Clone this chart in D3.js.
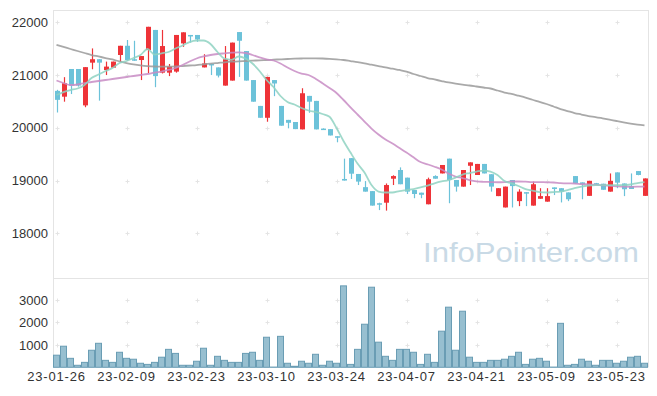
<!DOCTYPE html>
<html>
<head>
<meta charset="utf-8">
<script src="https://cdn.jsdelivr.net/npm/d3@7"></script>
<style>
  body { margin: 0; background: #fff; }
  svg text { font-family: "Liberation Sans", Arial, sans-serif; }
</style>
</head>
<body>
<svg id="chart" width="657" height="396"></svg>
<script>
// daily candles, 23-01-26 .. 23-05-30 (trading days)
const dates = ['23-01-26','23-01-27','23-01-30','23-01-31',
  '23-02-01','23-02-02','23-02-03','23-02-06','23-02-07','23-02-08','23-02-09','23-02-10','23-02-13','23-02-14',
  '23-02-15','23-02-16','23-02-17','23-02-20','23-02-21','23-02-22','23-02-23','23-02-24','23-02-27','23-02-28',
  '23-03-02','23-03-03','23-03-06','23-03-07','23-03-08','23-03-09','23-03-10','23-03-13','23-03-14','23-03-15',
  '23-03-16','23-03-17','23-03-20','23-03-21','23-03-22','23-03-23','23-03-24','23-03-27','23-03-28','23-03-29',
  '23-03-30','23-03-31',
  '23-04-03','23-04-04','23-04-05','23-04-06','23-04-07','23-04-10','23-04-11','23-04-12','23-04-13','23-04-14',
  '23-04-17','23-04-18','23-04-19','23-04-20','23-04-21','23-04-24','23-04-25','23-04-26','23-04-27','23-04-28',
  '23-05-02','23-05-03','23-05-04','23-05-08','23-05-09','23-05-10','23-05-11','23-05-12','23-05-15','23-05-16',
  '23-05-17','23-05-18','23-05-19','23-05-22','23-05-23','23-05-24','23-05-25','23-05-26','23-05-30'];

const opens = [20700,20590,21115,21115,20425,21235,21300,21095,21140,21380,21555,21300,21285,21475,21855,21045,21045,
  21065,21600,21760,21760,21145,21210,21145,20800,20895,21815,21455,20905,20415,20190,20905,20415,20150,20110,19970,
  20605,20510,19985,19975,19840,19030,19425,19125,18875,18800,18570,18580,19035,19200,19055,18820,18770,18550,19085,
  19135,19415,19010,18885,19280,19105,19315,19120,18705,18490,19010,18610,18780,18525,18655,18600,18870,18855,18775,
  19085,18965,18710,18950,18940,18790,19155,18945,18895,19180,18710];
const highs = [20720,20960,21115,21115,21150,21505,21300,21255,21255,21555,21665,21650,21360,21915,21855,21855,21210,
  21760,21810,21760,21760,21395,21215,21145,21550,21615,21815,21455,20905,20415,20965,20905,20415,20150,20110,20750,
  20605,20510,19990,19975,19840,19415,19425,19125,18990,18800,18580,18945,19100,19250,19055,18820,18770,19055,19100,
  19295,19415,19010,19200,19345,19315,19315,19120,18855,18885,19010,18835,18780,18980,18855,18855,18870,18855,18775,
  19085,18965,18995,18955,18940,19135,19155,18945,19135,19180,19040];
const lows = [20290,20495,20640,20780,20390,21110,20515,21000,21140,21250,21270,21270,20905,21035,20770,21030,20980,
  21045,21535,21615,21630,21145,21000,20955,20800,20895,20965,20895,20495,20190,20115,20600,20040,19990,19975,19970,
  20285,19970,19960,19855,19725,19000,19030,18915,18790,18525,18440,18430,18915,18930,18745,18665,18665,18550,19035,
  19135,18570,18790,18885,18915,19105,19135,18790,18705,18490,18490,18515,18515,18525,18655,18600,18725,18585,18610,
  18945,18645,18710,18930,18825,18790,18855,18705,18840,19100,18710];
const closes = [20530,20845,20800,20800,21150,21300,21235,21160,21255,21555,21285,21280,21360,21915,20980,21550,21160,
  21760,21810,21740,21675,21220,21190,20990,21300,21615,21650,20895,20495,20190,20965,20840,20040,20095,19975,20655,
  20495,19970,19965,19855,19820,19000,19130,18980,18790,18525,18550,18915,19085,18930,18790,18745,18730,19025,19035,
  19295,19010,18885,19200,19345,19315,19135,18885,18855,18885,18895,18790,18760,18930,18705,18705,18840,18790,18645,
  18945,18930,18995,18940,18825,18995,18960,18835,18840,19105,19040];

const volumes = [540,940,400,90,220,760,1070,310,220,670,400,360,180,130,220,450,800,620,90,90,270,850,90,490,310,220,
  220,620,670,310,1340,10,1380,180,45,270,180,580,90,270,180,3630,130,800,1920,3570,1120,490,310,800,800,670,130,580,
  220,1610,2680,760,2500,450,220,220,310,310,360,490,670,130,360,400,270,10,1960,90,130,360,270,90,310,310,180,270,450,
  490,180];

// moving averages as drawn on the chart
const ma5 = [20622,20678,20716,20745,20811,20944,21010,21077,21134,21228,21266,21323,21380,21494,21389,21412,21437,
  21503,21560,21626,21655,21655,21589,21437,21310,21289,21352,21314,21219,21077,20906,20773,20603,20489,20441,20375,
  20328,20300,20262,20211,19996,19750,19530,19322,19152,18915,18792,18773,18773,18801,18820,18839,18872,18906,18947,
  18982,19010,19057,19114,19143,19171,19190,19171,19105,18991,18947,18896,18839,18811,18782,18773,18782,18792,18820,
  18858,18887,18906,18915,18915,18915,18915,18915,18925,18953,18972];
const ma20 = [20897,20849,20811,20821,20849,20868,20887,20906,20925,20944,20963,20982,21001,21020,21048,21067,21096,
  21134,21190,21257,21314,21352,21380,21399,21412,21424,21431,21418,21380,21333,21298,21276,21219,21143,21077,21029,
  21001,20931,20843,20754,20660,20527,20387,20252,20119,19986,19873,19778,19702,19617,19531,19440,19351,19308,19262,
  19209,19133,19076,19048,19010,18985,18976,18972,18968,18972,18982,18982,18978,18972,18972,18966,18963,18953,18947,
  18944,18934,18928,18921,18910,18900,18891,18883,18881,18883,18887];
const ma60 = [21570,21532,21494,21456,21418,21380,21352,21323,21295,21257,21228,21204,21185,21171,21162,21158,21158,
  21162,21171,21181,21190,21204,21215,21228,21242,21253,21261,21266,21272,21280,21285,21291,21298,21304,21310,21314,
  21317,21317,21314,21308,21298,21285,21266,21247,21223,21196,21171,21147,21120,21096,21067,21020,20982,20944,20916,
  20887,20859,20836,20817,20802,20783,20764,20745,20707,20669,20641,20608,20574,20532,20493,20451,20404,20356,20318,
  20280,20252,20223,20204,20180,20155,20129,20104,20081,20062,20047];

const priceTicks = [18000, 19000, 20000, 21000, 22000];
const volTicks = [1000, 2000, 3000];

const svg = d3.select('#chart');
const left = 53, right = 648;
const priceTop = 10, priceBottom = 278, volBottom = 367.3;

const x = d3.scaleBand().domain(d3.range(dates.length)).range([left, right]).padding(0);
const cx = i => x(i) + x.bandwidth() / 2;
const y = d3.scaleLinear().domain([18000, 22000]).range([233.3, 22.3]);
const yv = d3.scaleLinear().domain([0, 3000]).range([volBottom, 300]);

const tickIdx = d3.range(0, dates.length, 10);

// frame
const frame = svg.append('g').attr('stroke', '#e4e4e4').attr('fill', 'none');
frame.append('line').attr('x1', left).attr('x2', right + 0.5).attr('y1', priceTop + 0.5).attr('y2', priceTop + 0.5);
frame.append('line').attr('x1', left).attr('x2', right + 0.5).attr('y1', priceBottom + 0.5).attr('y2', priceBottom + 0.5);
frame.append('line').attr('x1', left + 0.5).attr('x2', left + 0.5).attr('y1', priceTop).attr('y2', volBottom);
frame.append('line').attr('x1', right + 0.5).attr('x2', right + 0.5).attr('y1', priceTop).attr('y2', volBottom);

// "+" grid marks
const crossY = priceTicks.map(y).concat(volTicks.map(yv));
const crosses = svg.append('g').attr('stroke', '#e4e4e4').attr('stroke-width', 1);
tickIdx.forEach(i => {
  crossY.forEach(yy => {
    const px = Math.round(cx(i)) + 0.5, py = Math.round(yy) + 0.5;
    crosses.append('line').attr('x1', px - 2).attr('x2', px + 2).attr('y1', py).attr('y2', py);
    crosses.append('line').attr('x1', px).attr('x2', px).attr('y1', py - 2).attr('y2', py + 2);
  });
});

// watermark
svg.append('text')
  .attr('x', 423).attr('y', 262)
  .attr('font-size', 28).attr('fill', '#c9dae6')
  .attr('textLength', 216).attr('lengthAdjust', 'spacingAndGlyphs')
  .text('InfoPointer.com');

// y axes
const yAxis = svg.append('g').attr('transform', `translate(${left},0)`)
  .call(d3.axisLeft(y).tickValues(priceTicks).tickSize(0).tickPadding(5).tickFormat(d3.format('d')));
const yvAxis = svg.append('g').attr('transform', `translate(${left},0)`)
  .call(d3.axisLeft(yv).tickValues(volTicks).tickSize(0).tickPadding(5).tickFormat(d3.format('d')));
[yAxis, yvAxis].forEach(g => {
  g.select('.domain').remove();
  g.selectAll('text').attr('font-size', 13).attr('fill', '#333').style('font-family', '"Liberation Sans", Arial, sans-serif');
});

// x axis
const xAxis = svg.append('g').attr('transform', `translate(0,${volBottom})`)
  .call(d3.axisBottom(x).tickValues(tickIdx).tickSize(0).tickPadding(4).tickFormat(i => dates[i]));
xAxis.select('.domain').remove();
xAxis.selectAll('text').attr('font-size', 13).attr('fill', '#333').attr('letter-spacing', 0.8)
  .style('font-family', '"Liberation Sans", Arial, sans-serif');

// volume bars
svg.append('g').selectAll('rect').data(volumes).join('rect')
  .attr('x', (d, i) => x(i) + 0.5)
  .attr('width', x.bandwidth() - 1)
  .attr('y', d => yv(d))
  .attr('height', d => volBottom - yv(d))
  .attr('fill', '#97bfd0')
  .attr('stroke', '#6a9db4')
  .attr('stroke-width', 1);

// candles
const upCol = '#ee3338', downCol = '#6cc2d9';
const candles = svg.append('g').selectAll('g').data(dates.map((d, i) => i)).join('g');
candles.append('line')
  .attr('x1', i => Math.round(cx(i)) + 0.5).attr('x2', i => Math.round(cx(i)) + 0.5)
  .attr('y1', i => y(highs[i])).attr('y2', i => y(lows[i]))
  .attr('stroke', i => closes[i] >= opens[i] ? upCol : downCol)
  .attr('stroke-width', 1.2);
candles.append('rect')
  .attr('x', i => Math.round(cx(i)) - 2)
  .attr('width', 5)
  .attr('y', i => y(Math.max(opens[i], closes[i])))
  .attr('height', i => Math.max(1.5, Math.abs(y(opens[i]) - y(closes[i]))))
  .attr('fill', i => closes[i] >= opens[i] ? upCol : downCol);

// moving average lines
const line = d3.line().x((d, i) => cx(i)).y(d => y(d)).curve(d3.curveMonotoneX);
[[ma60, '#9a9a9a'], [ma20, '#c88cc4'], [ma5, '#8fd2c2']].forEach(([s, c]) => {
  svg.append('path').datum(s)
    .attr('d', line)
    .attr('fill', 'none')
    .attr('stroke', c)
    .attr('stroke-width', 1.8)
    .attr('stroke-opacity', 0.85);
});
</script>
</body>
</html>
